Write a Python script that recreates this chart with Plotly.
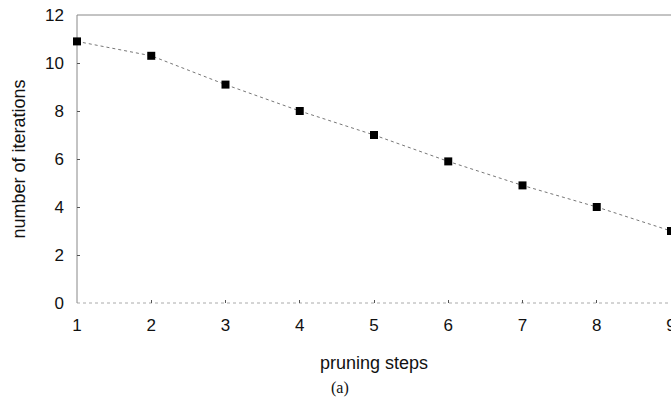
import plotly.graph_objects as go

steps = [1, 2, 3, 4, 5, 6, 7, 8, 9]
iterations = [10.9, 10.3, 9.1, 8.0, 7.0, 5.9, 4.9, 4.0, 3.0]
x_ticks = [1, 2, 3, 4, 5, 6, 7, 8, 9]
y_ticks = [0, 2, 4, 6, 8, 10, 12]

fig = go.Figure()
fig.add_trace(go.Scatter(
    x=steps, y=iterations, mode="lines+markers",
    line=dict(color="#777777", width=1, dash="dot"),
    marker=dict(symbol="square", size=8, color="black"),
    cliponaxis=False, showlegend=False,
))

font = dict(family="Liberation Sans, Arial, sans-serif", color="#111111")
fig.update_layout(
    template="none",
    width=671, height=412,
    margin=dict(l=77, r=0, t=15, b=109, autoexpand=False),
    paper_bgcolor="white", plot_bgcolor="rgba(0,0,0,0)",
    font=dict(size=18, **font),
    dragmode=False,
    xaxis=dict(
        range=[1, 9], tickvals=x_ticks, showgrid=False, zeroline=False,
        showline=False, mirror=False,
        ticks="inside", ticklen=3, tickcolor="#555555", automargin=False,
        tickfont=dict(size=17), ticklabelstandoff=10, ticklabeloverflow="allow",
        title=dict(text="pruning steps", font=dict(size=18), standoff=22),
    ),
    yaxis=dict(
        range=[0, 12], tickvals=y_ticks, showgrid=False, zeroline=False,
        showline=False, mirror=False,
        ticks="inside", ticklen=3, tickcolor="#555555", automargin=False,
        tickfont=dict(size=17), ticklabelstandoff=12,
        title=dict(text="number of iterations", font=dict(size=18), standoff=14),
    ),
    shapes=[
        dict(type="line", xref="paper", yref="paper", x0=0, x1=1, y0=1, y1=1,
             line=dict(color="#888888", width=1), layer="below"),
        dict(type="line", xref="paper", yref="paper", x0=0, x1=1, y0=0, y1=0,
             line=dict(color="#aaaaaa", width=1, dash="dot"), layer="below"),
        dict(type="line", xref="paper", yref="paper", x0=0, x1=0, y0=0, y1=1,
             line=dict(color="#888888", width=1), layer="below"),
    ],
    annotations=[dict(
        text="(a)", xref="paper", yref="paper", x=(340 - 77) / 594, y=-(388 - 303) / 288,
        showarrow=False, xanchor="center", yanchor="middle",
        font=dict(family="Liberation Serif, Times New Roman, serif", size=16, color="#111111"),
    )],
)

fig.write_html("out.html", config={"staticPlot": True})
